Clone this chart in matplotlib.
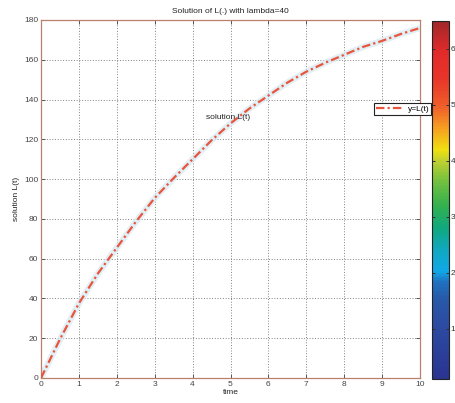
import matplotlib
matplotlib.use("Agg")
import matplotlib.pyplot as plt
import numpy as np
from matplotlib.colors import LinearSegmentedColormap, Normalize
import matplotlib.colorbar as mcolorbar

# ---- data ----
t = [0, 0.5, 1, 1.5, 2, 2.5, 3, 3.5, 4, 4.5, 5, 5.5, 6, 6.5, 7, 7.5, 8, 8.5, 9, 9.5, 10]
L = [0, 19.5, 37.5, 52.5, 65.5, 78.5, 90.5, 100.5, 110, 119.5, 128, 135.5, 142, 148.5, 154,
     158.5, 162.5, 166.5, 169.5, 173, 176]
xticks = list(range(0, 11))
yticks = list(range(0, 181, 20))
cbar_range = (0.1, 6.5)
cbar_ticks = [1, 2, 3, 4, 5, 6]
title = "Solution of L(.) with lambda=40"
xlabel = "time"
ylabel = "solution L(t)"
annot_text = "solution L(t)"
annot_pos = (4.35, 131)
legend_label = "y=L(t)"

plt.rcParams['font.family'] = ['Liberation Sans', 'DejaVu Sans']
FS = 6

fig = plt.figure(figsize=(4.56, 4.03), dpi=100)
ax = fig.add_axes([41/456, 25/403, 379/456, 358/403])

spine_col = '#b9806e'
for s in ax.spines.values():
    s.set_color(spine_col)
    s.set_linewidth(0.9)

ax.plot(t, L, color='#d6e9f2', lw=4.5, alpha=0.7, solid_capstyle='butt', zorder=2)
line, = ax.plot(t, L, color='#e8553c', lw=1.6, linestyle='-.', dashes=[3.8, 1.4, 1.0, 1.4],
                label=legend_label, zorder=3)

ax.set_xlim(0, 10)
ax.set_ylim(0, 180)
ax.set_xticks(xticks)
ax.set_yticks(yticks)
ax.tick_params(direction='in', length=3, width=0.7, colors='#555555', labelsize=FS,
               top=True, right=True, pad=2)
for lab in ax.get_xticklabels() + ax.get_yticklabels():
    lab.set_color('#444444')
ax.grid(True, linestyle=(0, (1, 2)), color='#707070', linewidth=0.65)
ax.set_axisbelow(True)

ax.set_title(title, fontsize=FS, pad=5, color='#222222')
ax.set_xlabel(xlabel, fontsize=FS, labelpad=1, color='#222222')
ax.set_ylabel(ylabel, fontsize=FS, labelpad=3, color='#222222')

ax.text(annot_pos[0], annot_pos[1], annot_text, fontsize=FS, color='#222222',
        va='center', ha='left', zorder=4)

leg = ax.legend(handles=[line], loc='center left', bbox_to_anchor=((374-41)/379, (378-109)/358),
                fontsize=FS, frameon=True, fancybox=False, framealpha=1, edgecolor='#222222',
                handlelength=3.2, handletextpad=0.6, borderpad=0.25, borderaxespad=0)
leg.get_frame().set_linewidth(0.8)
leg.set_zorder(10)

# ---- colorbar ----
cols = [(0.0, '#2a3490'), (0.14, '#2c4aa0'), (0.22, '#2858a8'), (0.27, '#2070c0'),
        (0.30, '#10a8e8'), (0.36, '#10a8c0'), (0.42, '#10a880'), (0.48, '#30b050'),
        (0.55, '#70c040'), (0.61, '#c0d030'), (0.64, '#f0e010'), (0.70, '#f5a020'),
        (0.76, '#f0602a'), (0.84, '#e8352a'), (0.92, '#e02a2a'), (1.0, '#a0282a')]
cmap = LinearSegmentedColormap.from_list('custom', cols, N=256)
cax = fig.add_axes([432/456, 24/403, 17/456, 358/403])
cb = mcolorbar.ColorbarBase(cax, cmap=cmap, norm=Normalize(*cbar_range), orientation='vertical')
cb.set_ticks(cbar_ticks)
cb.outline.set_linewidth(0.8)
cb.outline.set_edgecolor('#222222')
cax.tick_params(direction='in', length=2.5, width=0.7, labelsize=FS, left=True, right=True,
                colors='#333333', pad=1)

fig.savefig('out.png', dpi=100)
